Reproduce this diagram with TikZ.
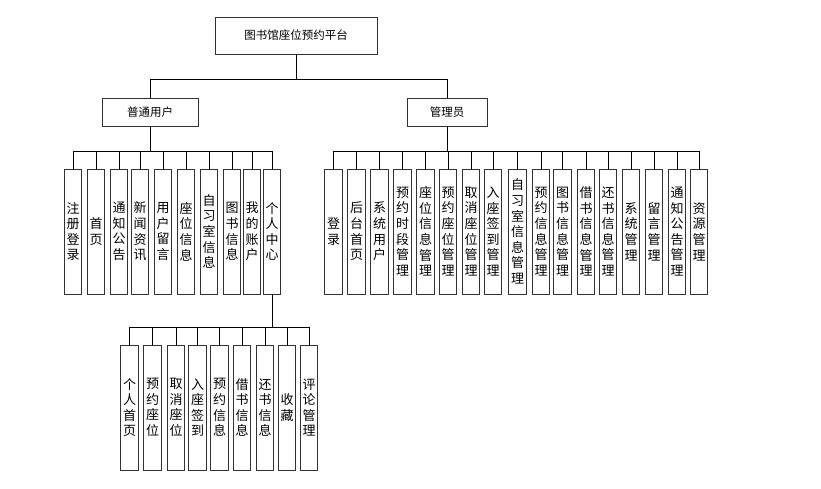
\documentclass[tikz,border=0pt]{standalone}
\usepackage{fontspec}
\newfontfamily\cjk{Noto Sans CJK SC}
\begin{document}
\begin{tikzpicture}[x=1pt,y=-1pt,
  boxline/.style={draw=black!80, line width=0.85pt, fill=white},
  topbox/.style={boxline, inner sep=0pt, font=\cjk\fontsize{11.5}{13}\selectfont},
  leaf/.style={boxline, minimum width=17.8pt, minimum height=125pt, inner sep=0pt,
    align=center, font=\cjk\fontsize{13}{15.6}\selectfont},
  conn/.style={draw=black, line width=0.8pt}]
\useasboundingbox (0,0) rectangle (821,489);
% root and second level
\node[topbox, minimum width=162pt, minimum height=37pt] (root) at (296,35.5) {图书馆座位预约平台};
\node[topbox, minimum width=96pt, minimum height=28pt] (user) at (150,112) {普通用户};
\node[topbox, minimum width=80pt, minimum height=28pt] (admin) at (447,112) {管理员};
% user leaves
\node[leaf] (u1) at (73,231.5) {注\\册\\登\\录};
\node[leaf] (u2) at (96,231.5) {首\\页};
\node[leaf] (u3) at (119,231.5) {通\\知\\公\\告};
\node[leaf] (u4) at (140,231.5) {新\\闻\\资\\讯};
\node[leaf] (u5) at (163,231.5) {用\\户\\留\\言};
\node[leaf] (u6) at (186,231.5) {座\\位\\信\\息};
\node[leaf] (u7) at (209,231.5) {自\\习\\室\\信\\息};
\node[leaf] (u8) at (232,231.5) {图\\书\\信\\息};
\node[leaf] (u9) at (252,231.5) {我\\的\\账\\户};
\node[leaf] (u10) at (272,231.5) {个\\人\\中\\心};
% admin leaves
\node[leaf] (a1) at (333.5,231.5) {登\\录};
\node[leaf] (a2) at (356.5,231.5) {后\\台\\首\\页};
\node[leaf] (a3) at (379.5,231.5) {系\\统\\用\\户};
\node[leaf] (a4) at (402.5,231.5) {预\\约\\时\\段\\管\\理};
\node[leaf] (a5) at (425.5,231.5) {座\\位\\信\\息\\管\\理};
\node[leaf] (a6) at (448,231.5) {预\\约\\座\\位\\管\\理};
\node[leaf] (a7) at (471,231.5) {取\\消\\座\\位\\管\\理};
\node[leaf] (a8) at (493,231.5) {入\\座\\签\\到\\管\\理};
\node[leaf] (a9) at (517.5,231.5) {自\\习\\室\\信\\息\\管\\理};
\node[leaf] (a10) at (541,231.5) {预\\约\\信\\息\\管\\理};
\node[leaf] (a11) at (562.5,231.5) {图\\书\\信\\息\\管\\理};
\node[leaf] (a12) at (586,231.5) {借\\书\\信\\息\\管\\理};
\node[leaf] (a13) at (608,231.5) {还\\书\\信\\息\\管\\理};
\node[leaf] (a14) at (631,231.5) {系\\统\\管\\理};
\node[leaf] (a15) at (654,231.5) {留\\言\\管\\理};
\node[leaf] (a16) at (677,231.5) {通\\知\\公\\告\\管\\理};
\node[leaf] (a17) at (699,231.5) {资\\源\\管\\理};
% personal centre leaves
\node[leaf] (p1) at (129.5,407.5) {个\\人\\首\\页};
\node[leaf] (p2) at (152.5,407.5) {预\\约\\座\\位};
\node[leaf] (p3) at (176,407.5) {取\\消\\座\\位};
\node[leaf] (p4) at (197.5,407.5) {入\\座\\签\\到};
\node[leaf] (p5) at (219.5,407.5) {预\\约\\信\\息};
\node[leaf] (p6) at (242,407.5) {借\\书\\信\\息};
\node[leaf] (p7) at (265,407.5) {还\\书\\信\\息};
\node[leaf] (p8) at (287,407.5) {收\\藏};
\node[leaf] (p9) at (309,407.5) {评\\论\\管\\理};
% connectors
\foreach \c in {user,admin}
  \draw[conn] (root.south) |- ([yshift=18pt]\c.north) -- (\c.north);
\foreach \c in {u1,u2,u3,u4,u5,u6,u7,u8,u9,u10}
  \draw[conn] (user.south) |- ([yshift=17pt]\c.north) -- (\c.north);
\foreach \c in {a1,a2,a3,a4,a5,a6,a7,a8,a9,a10,a11,a12,a13,a14,a15,a16,a17}
  \draw[conn] (admin.south) |- ([yshift=17pt]\c.north) -- (\c.north);
\foreach \c in {p1,p2,p3,p4,p5,p6,p7,p8,p9}
  \draw[conn] (u10.south) |- ([yshift=17pt]\c.north) -- (\c.north);
\end{tikzpicture}
\end{document}
